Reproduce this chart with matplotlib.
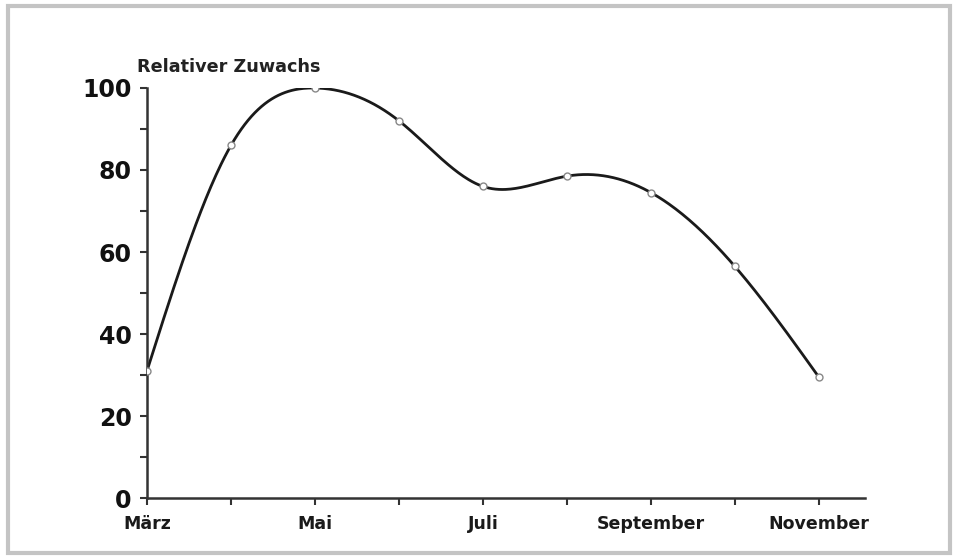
import numpy as np
import matplotlib.pyplot as plt
from matplotlib.patches import Rectangle

# Monthly values
months = ['März', 'April', 'Mai', 'Juni', 'Juli', 'August', 'September', 'Oktober', 'November']
growth = [31, 86, 100, 92, 76, 78.5, 74.5, 56.5, 29.5]
y_ticks = [0, 20, 40, 60, 80, 100]


def natural_spline(x, y, n=400):
    # plain natural cubic spline, no scipy needed
    x = np.asarray(x, float)
    y = np.asarray(y, float)
    k = len(x)
    h = np.diff(x)
    A = np.zeros((k, k))
    b = np.zeros(k)
    A[0, 0] = A[-1, -1] = 1
    for i in range(1, k - 1):
        A[i, i - 1] = h[i - 1]
        A[i, i] = 2 * (h[i - 1] + h[i])
        A[i, i + 1] = h[i]
        b[i] = 3 * ((y[i + 1] - y[i]) / h[i] - (y[i] - y[i - 1]) / h[i - 1])
    c = np.linalg.solve(A, b)
    xs = np.linspace(x[0], x[-1], n)
    ys = np.empty_like(xs)
    for j, t in enumerate(xs):
        i = min(np.searchsorted(x, t, side='right') - 1, k - 2)
        bi = (y[i + 1] - y[i]) / h[i] - h[i] * (2 * c[i] + c[i + 1]) / 3
        di = (c[i + 1] - c[i]) / (3 * h[i])
        dx = t - x[i]
        ys[j] = y[i] + bi * dx + c[i] * dx ** 2 + di * dx ** 3
    return xs, ys


plt.rcParams['font.family'] = ['DejaVu Sans']

fig = plt.figure(figsize=(9.59, 5.59), dpi=100)
fig.patches.append(Rectangle((8 / 959, 6 / 559), 942 / 959, 547 / 559,
                             transform=fig.transFigure, fill=False,
                             edgecolor='#c4c4c4', linewidth=3))

ax = fig.add_axes([147 / 959, 61 / 559, 718 / 959, 410 / 559])
x = np.arange(len(months))
xs, ys = natural_spline(x, growth)
ax.plot(xs, ys, color='#1a1a1a', linewidth=2, zorder=2)
ax.plot(x, growth, 'o', markersize=5, markerfacecolor='white',
        markeredgecolor='#888888', markeredgewidth=1, zorder=3)

ax.set_xlim(0, 8.55)
ax.set_ylim(0, 100)
for s in ['top', 'right']:
    ax.spines[s].set_visible(False)
for s in ['left', 'bottom']:
    ax.spines[s].set_linewidth(1.8)
    ax.spines[s].set_color('#333333')

ax.set_xticks(x)
ax.set_xticklabels([m if i % 2 == 0 else '' for i, m in enumerate(months)],
                   fontsize=12.5, fontweight='bold', color='#1a1a1a')
ax.set_yticks(y_ticks)
ax.set_yticklabels([str(v) for v in y_ticks], fontsize=17, fontweight='bold',
                   color='#111111')
ax.set_yticks(np.arange(10, 100, 20), minor=True)
ax.tick_params(axis='both', which='both', direction='out', length=5,
               width=1.5, color='#333333')
ax.tick_params(axis='x', pad=7)
ax.tick_params(axis='y', pad=6)

fig.text(137 / 959, 1 - 67 / 559, 'Relativer Zuwachs', fontsize=12.7,
         fontweight='bold', va='center', ha='left', color='#222222')

fig.savefig('out.png', dpi=100)
